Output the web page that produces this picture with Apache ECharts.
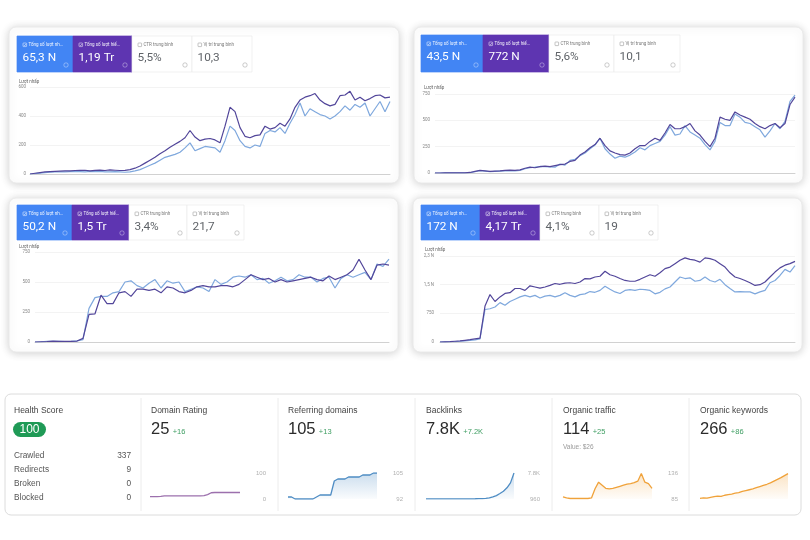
<!DOCTYPE html>
<html><head><meta charset="utf-8">
<script src="https://cdn.jsdelivr.net/npm/echarts@6/dist/echarts.min.js"></script>
<style>html,body{margin:0;padding:0;background:#fff}#c{width:810px;height:540px}</style>
</head><body><div id="c"></div><script>
// ---------- Search Console panels ----------
const tileHeads = ['Tổng số lượt nh...', 'Tổng số lượt hiể...', 'CTR trung bình', 'Vị trí trung bình'];
const yName = 'Lượt nhấp';

const p1Tiles = ['65,3 N', '1,19 Tr', '5,5%', '10,3'];
const p1Ticks = ['0', '200', '400', '600'];
const p1Clicks = [0,3,6,10,12,14,15,14,16,18,17,15,18,16,18,15,14,16,14,12,
  15,22,30,45,60,75,95,115,125,135,150,180,215,160,175,190,185,180,150,230,330,300,230,190,180,200,190,280,300,290,320,280,350,410,490,400,450,430,410,400,380,400,430,470,440,480,460,490,400,450,500,430,500];
const p1Impressions = [0,5,10,14,16,18,20,22,22,24,25,26,22,25,27,24,28,26,24,25,
  30,40,55,75,95,115,140,160,185,205,225,250,300,255,230,240,245,235,215,330,460,430,320,260,250,265,270,330,310,320,350,330,380,460,510,530,540,555,510,485,470,480,540,545,570,510,530,505,520,540,545,525,530];

const p2Tiles = ['43,5 N', '772 N', '5,6%', '10,1'];
const p2Ticks = ['0', '250', '500', '750'];
const p2Clicks = [0,0,1,1,1,2,2,3,12,22,18,12,15,18,20,22,20,25,40,50,
  55,62,60,58,55,85,75,120,130,165,190,230,265,330,230,180,140,160,150,170,200,240,220,260,280,300,360,440,360,370,450,390,360,330,270,220,300,480,450,450,560,530,480,470,440,410,340,400,470,420,490,680,740];
const p2Impressions = [0,0,1,1,1,2,2,5,15,25,20,15,18,20,25,28,25,30,45,55,
  50,60,65,60,70,80,85,110,120,170,200,240,270,330,260,210,190,175,170,190,230,260,260,300,330,310,380,460,420,420,440,470,400,360,300,250,330,530,510,500,580,550,530,510,470,440,420,450,470,430,470,650,720];

const p3Tiles = ['50,2 N', '1,5 Tr', '3,4%', '21,7'];
const p3Ticks = ['0', '250', '500', '750'];
const p3Clicks = [0,2,5,6,5,4,6,10,20,280,370,380,380,410,420,500,510,470,450,490,520,450,510,490,500,420,440,460,450,420,
  520,480,500,540,550,540,560,520,530,490,510,540,510,520,560,540,540,500,530,540,450,530,560,540,560,580,520,650,630,690];
const p3Impressions = [0,2,4,8,6,5,5,8,30,230,235,390,320,320,410,420,380,440,440,430,440,410,460,450,420,410,430,460,470,460,
  460,470,470,460,480,520,560,540,520,530,500,520,500,510,520,530,540,520,510,550,520,540,560,600,690,600,520,640,650,640];

const p4Tiles = ['172 N', '4,17 Tr', '4,1%', '19'];
const p4Ticks = ['0', '750', '1,5 N', '2,3 N'];
const p4Clicks = [0,3,6,12,20,30,40,55,80,850,870,915,1030,960,1060,1120,1180,1220,1180,1220,1150,1200,1220,1180,1220,1290,1220,1180,1240,1260,1320,1300,1350,1460,1380,1310,
  1270,1350,1370,1350,1380,1370,1350,1260,1300,1390,1440,1570,1700,1660,1680,1590,1610,1700,1610,1570,1640,1500,1400,1310,1320,1310,1310,1260,1310,1350,1550,1610,1740,1900,1830,2000];
const p4Impressions = [0,5,10,20,30,45,60,80,100,940,1240,1060,1180,1270,1290,1400,1400,1350,1470,1440,1410,1440,1480,1530,1510,1540,1550,1530,1570,1660,1650,1700,1720,1850,1760,1720,
  1660,1610,1590,1590,1640,1700,1760,1720,1810,1920,1960,2050,2140,2200,2160,2140,2090,2200,2180,2140,2050,1960,1810,1700,1660,1610,1550,1480,1500,1570,1700,1830,1940,2010,2050,2110];

// ---------- Site audit / backlink summary ----------
const healthTitle = 'Health Score';
const healthScore = '100';
const healthLabels = ['Crawled', 'Redirects', 'Broken', 'Blocked'];
const healthValues = ['337', '9', '0', '0'];
const metricTitles = ['Domain Rating', 'Referring domains', 'Backlinks', 'Organic traffic', 'Organic keywords'];
const metricValues = ['25', '105', '7.8K', '114', '266'];
const metricDeltas = ['+16', '+13', '+7.2K', '+25', '+86'];
const trafficValueNote = 'Value: $26';
const drSeries = [9,9,9,10,12,12,12,12,12,12,12,12,12,12,12,13,17,24,25,25,25,25,25,25,25,25];
const refDomSeries = [93,93,92,92,92,92,92,92,93,94,94,94,94,101,102,102,102,103,103,103,103,104,104,104,105,105];
const backlinkSeries = [1000,1000,1000,1000,1000,1000,1000,1000,1000,1000,1000,1000,1000,1010,1020,1040,1060,1100,1250,1500,1850,2400,3000,3900,5200,7800];
const trafficSeries = [89,87,86,86,86,86,86,86,87,105,118,112,106,105,106,108,110,112,114,115,117,120,135,118,115,106];
const keywordSeries = [180,182,181,184,186,188,187,191,193,195,198,200,204,207,210,213,217,221,225,229,234,240,246,252,259,266];
const sparkMin = [0, 92, 960, 85, 178];
const sparkMax = [100, 105, 7800, 136, 268];
const sparkTickLabels = [['0','100'], ['92','105'], ['960','7.8K'], ['85','136'], null];

// ---------- layout (positions / styles only) ----------
const gsc = [
  {tiles:p1Tiles, ticks:p1Ticks, max:600, step:200, clicks:p1Clicks, impr:p1Impressions,
   card:[9,27,390,156], tx:[17,73,132,192,252], ty:36, th:36, grid:[30,87,360,87], label:[19,81.5], margin:4},
  {tiles:p2Tiles, ticks:p2Ticks, max:750, step:250, clicks:p2Clicks, impr:p2Impressions,
   card:[414,27,389,156], tx:[421,483,549,614,680], ty:35, th:37, grid:[435,94,360,79], label:[424,88], margin:5},
  {tiles:p3Tiles, ticks:p3Ticks, max:750, step:250, clicks:p3Clicks, impr:p3Impressions,
   card:[9,198,389,154], tx:[17,72,129,187,244], ty:205, th:35, grid:[35,252,354,90], label:[19,246.5], margin:5},
  {tiles:p4Tiles, ticks:p4Ticks, max:2250, step:750, clicks:p4Clicks, impr:p4Impressions,
   card:[413,198,389,154], tx:[421,480,540,599,658], ty:205, th:35, grid:[440,256,355,86], label:[425,250], margin:6}
];
const sparks = [
  {data:drSeries, grid:[150,473,90,26], color:'#9c70ad', area:null},
  {data:refDomSeries, grid:[288,473,89,26], color:'#4f8dc4', area:'79,141,196'},
  {data:backlinkSeries, grid:[426,473,88,26], color:'#4f8dc4', area:'79,141,196'},
  {data:trafficSeries, grid:[563,473,89,26], color:'#f0a23a', area:'240,162,58'},
  {data:keywordSeries, grid:[700,473,88,26], color:'#f0a23a', area:'240,162,58'}
];
const metricX = [151, 288, 426, 563, 700];
const sepX = [141, 278, 415, 552, 689];
const FF = 'Roboto, "Noto Sans", sans-serif';
const AF = '"Liberation Sans", Arial, sans-serif';

const G = [], grids = [], xAxes = [], yAxes = [], series = [];

gsc.forEach((p, k) => {
  const [cx, cy, cw, ch] = p.card;
  G.push({type:'rect', z:-10, shape:{x:cx, y:cy, width:cw, height:ch, r:7},
    style:{fill:'#fff', stroke:'#eaeaea', lineWidth:1, shadowBlur:9, shadowColor:'rgba(0,0,0,0.18)', shadowOffsetY:1}});
  for (let t = 0; t < 4; t++) {
    const x0 = p.tx[t], x1 = p.tx[t+1], w = x1 - x0, sel = t < 2;
    const bg = t === 0 ? '#4285f4' : (t === 1 ? '#5e35b1' : '#fff');
    G.push({type:'rect', z:-5, shape:{x:x0, y:p.ty, width:w, height:p.th},
      style:{fill:bg, stroke: sel ? bg : '#ebebeb', lineWidth:0.7}});
    G.push({type:'rect', z:5, shape:{x:x0+6, y:p.ty+7, width:3.6, height:3.6, r:0.5},
      style:{fill:'none', stroke: sel ? '#fff' : '#888', lineWidth:0.5}});
    if (sel) G.push({type:'polyline', z:6, shape:{points:[[x0+6.7,p.ty+8.9],[x0+7.6,p.ty+9.8],[x0+9,p.ty+7.9]]},
      style:{stroke:'#fff', lineWidth:0.5, fill:'none'}});
    G.push({type:'text', z:5, x:x0+11.5, y:p.ty+8.9, style:{text:tileHeads[t], fontSize:4.5, fontFamily:FF,
      fill: sel ? 'rgba(255,255,255,0.92)' : '#777', verticalAlign:'middle'}});
    G.push({type:'text', z:5, x:x0+5.5, y:p.ty+21.8, style:{text:p.tiles[t], fontSize:11.8, fontFamily:FF,
      fill: sel ? '#fff' : '#5f6368', verticalAlign:'middle'}});
    G.push({type:'circle', z:5, shape:{cx:x1-7, cy:p.ty+p.th-7, r:2.2},
      style:{fill:'none', stroke: sel ? 'rgba(255,255,255,0.6)' : '#aaa', lineWidth:0.6}});
  }
  G.push({type:'text', z:5, x:p.label[0], y:p.label[1], style:{text:yName, fontSize:4.5, fontFamily:FF, fill:'#666', verticalAlign:'middle'}});
  const [l, tp, w, h] = p.grid;
  grids.push({left:l, top:tp, width:w, height:h});
  xAxes.push({type:'category', gridIndex:k, boundaryGap:false, axisLabel:{show:false}, axisTick:{show:false},
    axisLine:{show:true, lineStyle:{color:'#c8c8c8', width:0.8}}});
  yAxes.push({type:'value', gridIndex:k, min:0, max:p.max, interval:p.step,
    axisLabel:{fontSize:4.5, color:'#888', margin:p.margin, fontFamily:FF, formatter:(v) => p.ticks[Math.round(v / p.step)]},
    splitLine:{lineStyle:{color:'#eeeeee', width:0.7}}, axisLine:{show:false}, axisTick:{show:false}});
  series.push({type:'line', name:'Lượt nhấp', xAxisIndex:k, yAxisIndex:k, data:p.clicks, symbol:'none', z:3,
    lineStyle:{color:'#7fa8dd', width:1.2}, emphasis:{disabled:true}});
  series.push({type:'line', name:'Lượt hiển thị', xAxisIndex:k, yAxisIndex:k, data:p.impr, symbol:'none', z:4,
    lineStyle:{color:'#52469a', width:1.2}, emphasis:{disabled:true}});
});

// Bottom summary card
G.push({type:'rect', z:-10, shape:{x:5, y:394, width:796, height:121, r:6}, style:{fill:'#fff', stroke:'#dcdcdc', lineWidth:1}});
sepX.forEach(x => G.push({type:'line', z:-5, shape:{x1:x, y1:398, x2:x, y2:511}, style:{stroke:'#ececec', lineWidth:1}}));
G.push({type:'text', z:5, x:14, y:411, style:{text:healthTitle, fontSize:8.5, fontFamily:AF, fill:'#444', verticalAlign:'middle'}});
G.push({type:'rect', z:4, shape:{x:13, y:422, width:33, height:15, r:7.5}, style:{fill:'#1f9a56'}});
G.push({type:'text', z:5, x:29.5, y:429.8, style:{text:healthScore, fontSize:12, fontFamily:AF, fill:'#fff', align:'center', verticalAlign:'middle'}});
healthLabels.forEach((lab, i) => {
  const y = 455.5 + i * 14.2;
  G.push({type:'text', z:5, x:14, y:y, style:{text:lab, fontSize:8.3, fontFamily:AF, fill:'#555', verticalAlign:'middle'}});
  G.push({type:'text', z:5, x:131, y:y, style:{text:healthValues[i], fontSize:8.3, fontFamily:AF, fill:'#555', align:'right', verticalAlign:'middle'}});
});
metricTitles.forEach((t, i) => {
  const x = metricX[i];
  G.push({type:'text', z:5, x:x, y:411, style:{text:t, fontSize:8.5, fontFamily:AF, fill:'#444', verticalAlign:'middle'}});
  G.push({type:'text', z:5, x:x, y:438, style:{text:'{a|' + metricValues[i] + '} {b|' + metricDeltas[i] + '}',
    fontFamily:AF, verticalAlign:'bottom',
    rich:{a:{fontSize:16.5, fill:'#2b2b2b', color:'#2b2b2b', fontFamily:AF, verticalAlign:'bottom'},
          b:{fontSize:7.5, fill:'#3f9e63', color:'#3f9e63', fontFamily:AF, verticalAlign:'bottom', padding:[0,0,2,0]}}}});
});
G.push({type:'text', z:5, x:563, y:447, style:{text:trafficValueNote, fontSize:6.5, fontFamily:AF, fill:'#9a9a9a', verticalAlign:'middle'}});

sparks.forEach((s, k) => {
  const gi = 4 + k;
  const [l, tp, w, h] = s.grid;
  const mn = sparkMin[k], mx = sparkMax[k], labs = sparkTickLabels[k];
  grids.push({left:l, top:tp, width:w, height:h});
  xAxes.push({type:'category', gridIndex:gi, boundaryGap:false, show:false});
  yAxes.push({type:'value', gridIndex:gi, min:mn, max:mx, interval:mx - mn, position:'right',
    axisLabel:{show:!!labs, fontSize:6, color:'#b0b0b0', align:'right', margin:26, fontFamily:AF,
      formatter:(v) => labs ? (Math.abs(v - mn) < 1e-6 ? labs[0] : labs[1]) : ''},
    splitLine:{show:false}, axisLine:{show:false}, axisTick:{show:false}});
  const ser = {type:'line', xAxisIndex:gi, yAxisIndex:gi, data:s.data, symbol:'none', z:3,
    lineStyle:{color:s.color, width:1.3}, emphasis:{disabled:true}};
  if (s.area) ser.areaStyle = {origin:'start', color:new echarts.graphic.LinearGradient(0,0,0,1,[
    {offset:0, color:'rgba(' + s.area + ',0.42)'}, {offset:1, color:'rgba(' + s.area + ',0.04)'}])};
  series.push(ser);
});

const chart = echarts.init(document.getElementById('c'), null, {renderer:'canvas'});
chart.setOption({
  backgroundColor:'#ffffff',
  animation:false,
  grid:grids, xAxis:xAxes, yAxis:yAxes, series:series,
  graphic:{elements:G}
});
</script></body></html>
